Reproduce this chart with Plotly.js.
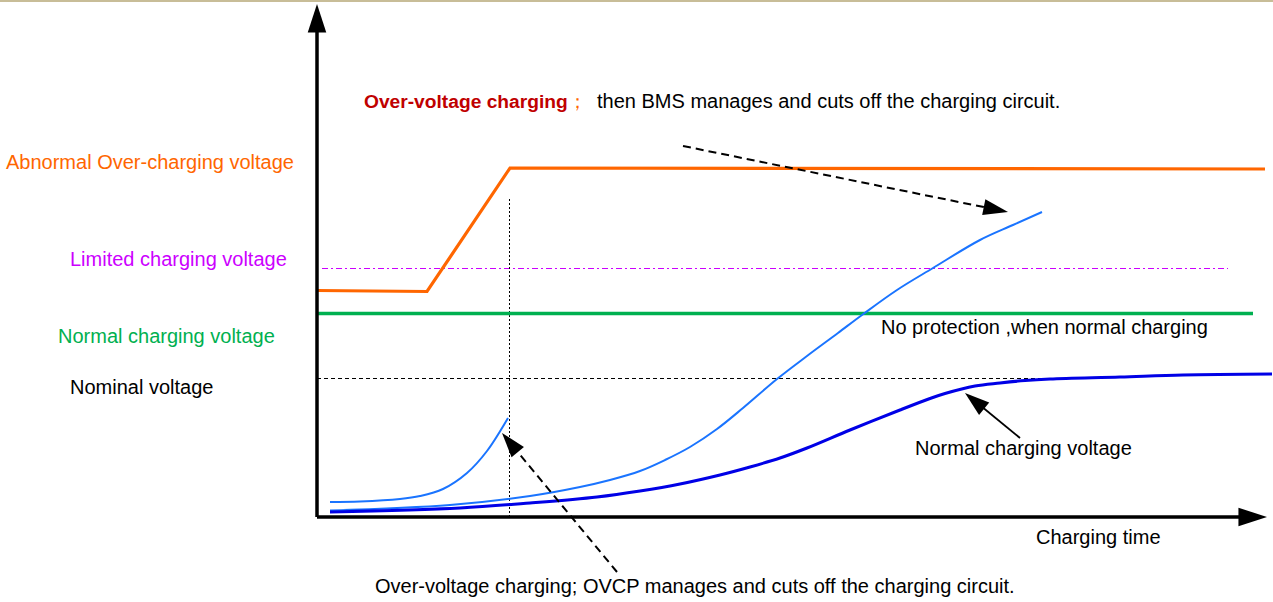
<!DOCTYPE html>
<html>
<head>
<meta charset="utf-8">
<script src="https://cdn.plot.ly/plotly-3.0.1.min.js"></script>
<style>html,body{margin:0;padding:0;background:#fff;}#chart{width:1273px;height:602px;}</style>
</head>
<body>
<div id="chart"></div>
<script>
// Schematic units: time to the right of the origin, voltage above the origin
const axisTimeX = [0, 950];
const axisTimeY = [0, 0];
const axisVoltX = [0, 0];
const axisVoltY = [0, 513];

const abnormalX = [0, 110, 193, 948];
const abnormalY = [226.5, 225.5, 349, 348];

const limitedX = [5, 911];
const limitedY = [248.5, 248.5];

const normalLevelX = [1, 936];
const normalLevelY = [203.5, 203.5];

const nominalX = [0, 730];
const nominalY = [138.5, 138.5];

const cutoffX = [192.5, 192.5];
const cutoffY = [0, 319];

const ovcpX = [13, 43, 83, 103, 126, 150, 170, 191];
const ovcpY = [15, 15.5, 18, 21, 28, 44, 66, 99];

const overX = [13, 133, 213, 263, 293, 323, 348, 373, 400, 426, 460, 490, 521, 545, 580, 616, 663, 696, 725];
const overY = [6.5, 12, 21, 30, 37, 46, 57, 70, 88, 109, 138, 161, 184, 202, 227, 249, 277, 292, 305];

const normalX = [13, 143, 213, 280, 323, 363, 403, 433, 463, 490, 533, 583, 613, 628, 658, 683, 708, 733, 803, 866, 955];
const normalY = [5, 9, 14, 20, 26, 33, 42, 50, 59, 69, 87, 107, 118.5, 123.5, 131, 134, 136.5, 138, 140, 142, 143];

const bmsArrowX = [366, 691];
const bmsArrowY = [371, 305];
const ovcpArrowX = [300, 185];
const ovcpArrowY = [-55, 84];
const normalArrowX = [703, 648];
const normalArrowY = [79, 124];

const labels = {
  topBold: '<b><span style="color:#c00000">Over-voltage charging</span></b><span style="color:#ff6600">；</span>',
  topRest: 'then BMS manages and cuts off the charging circuit.',
  abnormal: 'Abnormal Over-charging voltage',
  limited: 'Limited charging voltage',
  normalLevel: 'Normal charging voltage',
  nominal: 'Nominal voltage',
  noProt: 'No protection ,when normal charging',
  normalCurve: 'Normal charging voltage',
  time: 'Charging time',
  bottom: 'Over-voltage charging; OVCP manages and cuts off the charging circuit.'
};

const FONT = 'Liberation Sans, Arial, sans-serif';
const FS = 20;

function line(x, y, color, width, dash, shape) {
  return {x: x, y: y, type: 'scatter', mode: 'lines', hoverinfo: 'skip',
    line: {color: color, width: width, dash: dash || 'solid', shape: shape || 'linear', smoothing: 1}};
}
function arrow(x, y, color, width, dash, size) {
  return {x: x, y: y, type: 'scatter', mode: 'lines+markers', hoverinfo: 'skip',
    line: {color: color, width: width, dash: dash || 'solid'},
    marker: {symbol: 'arrow', angleref: 'previous', size: [0, size], color: color, opacity: 1, line: {width: 0}}};
}

const traces = [
  line(limitedX, limitedY, '#cc00ff', 1, '6px,3px,2px,3px'),
  line(nominalX, nominalY, '#000000', 1, '4px,3px'),
  line(cutoffX, cutoffY, '#000000', 1, '2px,2px'),
  line(normalLevelX, normalLevelY, '#00b050', 3.5),
  line(abnormalX, abnormalY, '#ff6600', 3.2),
  line(ovcpX, ovcpY, '#1a74ff', 2, 'solid', 'spline'),
  line(overX, overY, '#1a74ff', 2, 'solid', 'spline'),
  line(normalX, normalY, '#0000e6', 3, 'solid', 'spline'),
  arrow(axisVoltX, axisVoltY, '#000000', 3.5, 'solid', 30),
  arrow(axisTimeX, axisTimeY, '#000000', 3.5, 'solid', 30),
  arrow(bmsArrowX, bmsArrowY, '#000000', 2, '8px,5px', 26),
  arrow(ovcpArrowX, ovcpArrowY, '#000000', 2, '8px,5px', 26),
  arrow(normalArrowX, normalArrowY, '#000000', 1.8, 'solid', 26)
];

function ann(text, x, y, color, size) {
  return {text: text, x: x, y: y, xref: 'x', yref: 'y', xanchor: 'left', yanchor: 'middle',
    showarrow: false, font: {family: FONT, size: size || FS, color: color || '#000000'}};
}

const annotations = [
  ann(labels.topBold, 45, 416, '#c00000', 19.2),
  ann(labels.topRest, 278, 416),
  ann(labels.abnormal, -313, 355, '#ff6600'),
  ann(labels.limited, -249, 258, '#cc00ff'),
  ann(labels.normalLevel, -261, 181, '#00b050'),
  ann(labels.nominal, -249, 130),
  ann(labels.noProt, 562, 190),
  ann(labels.normalCurve, 596, 69),
  ann(labels.time, 717, -20),
  ann(labels.bottom, 56, -69)
];

const layout = {
  width: 1273, height: 602,
  margin: {l: 0, r: 0, t: 0, b: 0, pad: 0},
  paper_bgcolor: '#ffffff', plot_bgcolor: '#ffffff',
  showlegend: false,
  xaxis: {range: [-317, 956], visible: false, fixedrange: true},
  yaxis: {range: [-85, 517], visible: false, fixedrange: true},
  annotations: annotations,
  shapes: [{type: 'rect', xref: 'paper', yref: 'paper', x0: 0, x1: 1, y0: 0.9967, y1: 1,
    fillcolor: '#c8bd98', line: {width: 0}}]
};

Plotly.newPlot('chart', traces, layout, {staticPlot: true, displayModeBar: false});
</script>
</body>
</html>
